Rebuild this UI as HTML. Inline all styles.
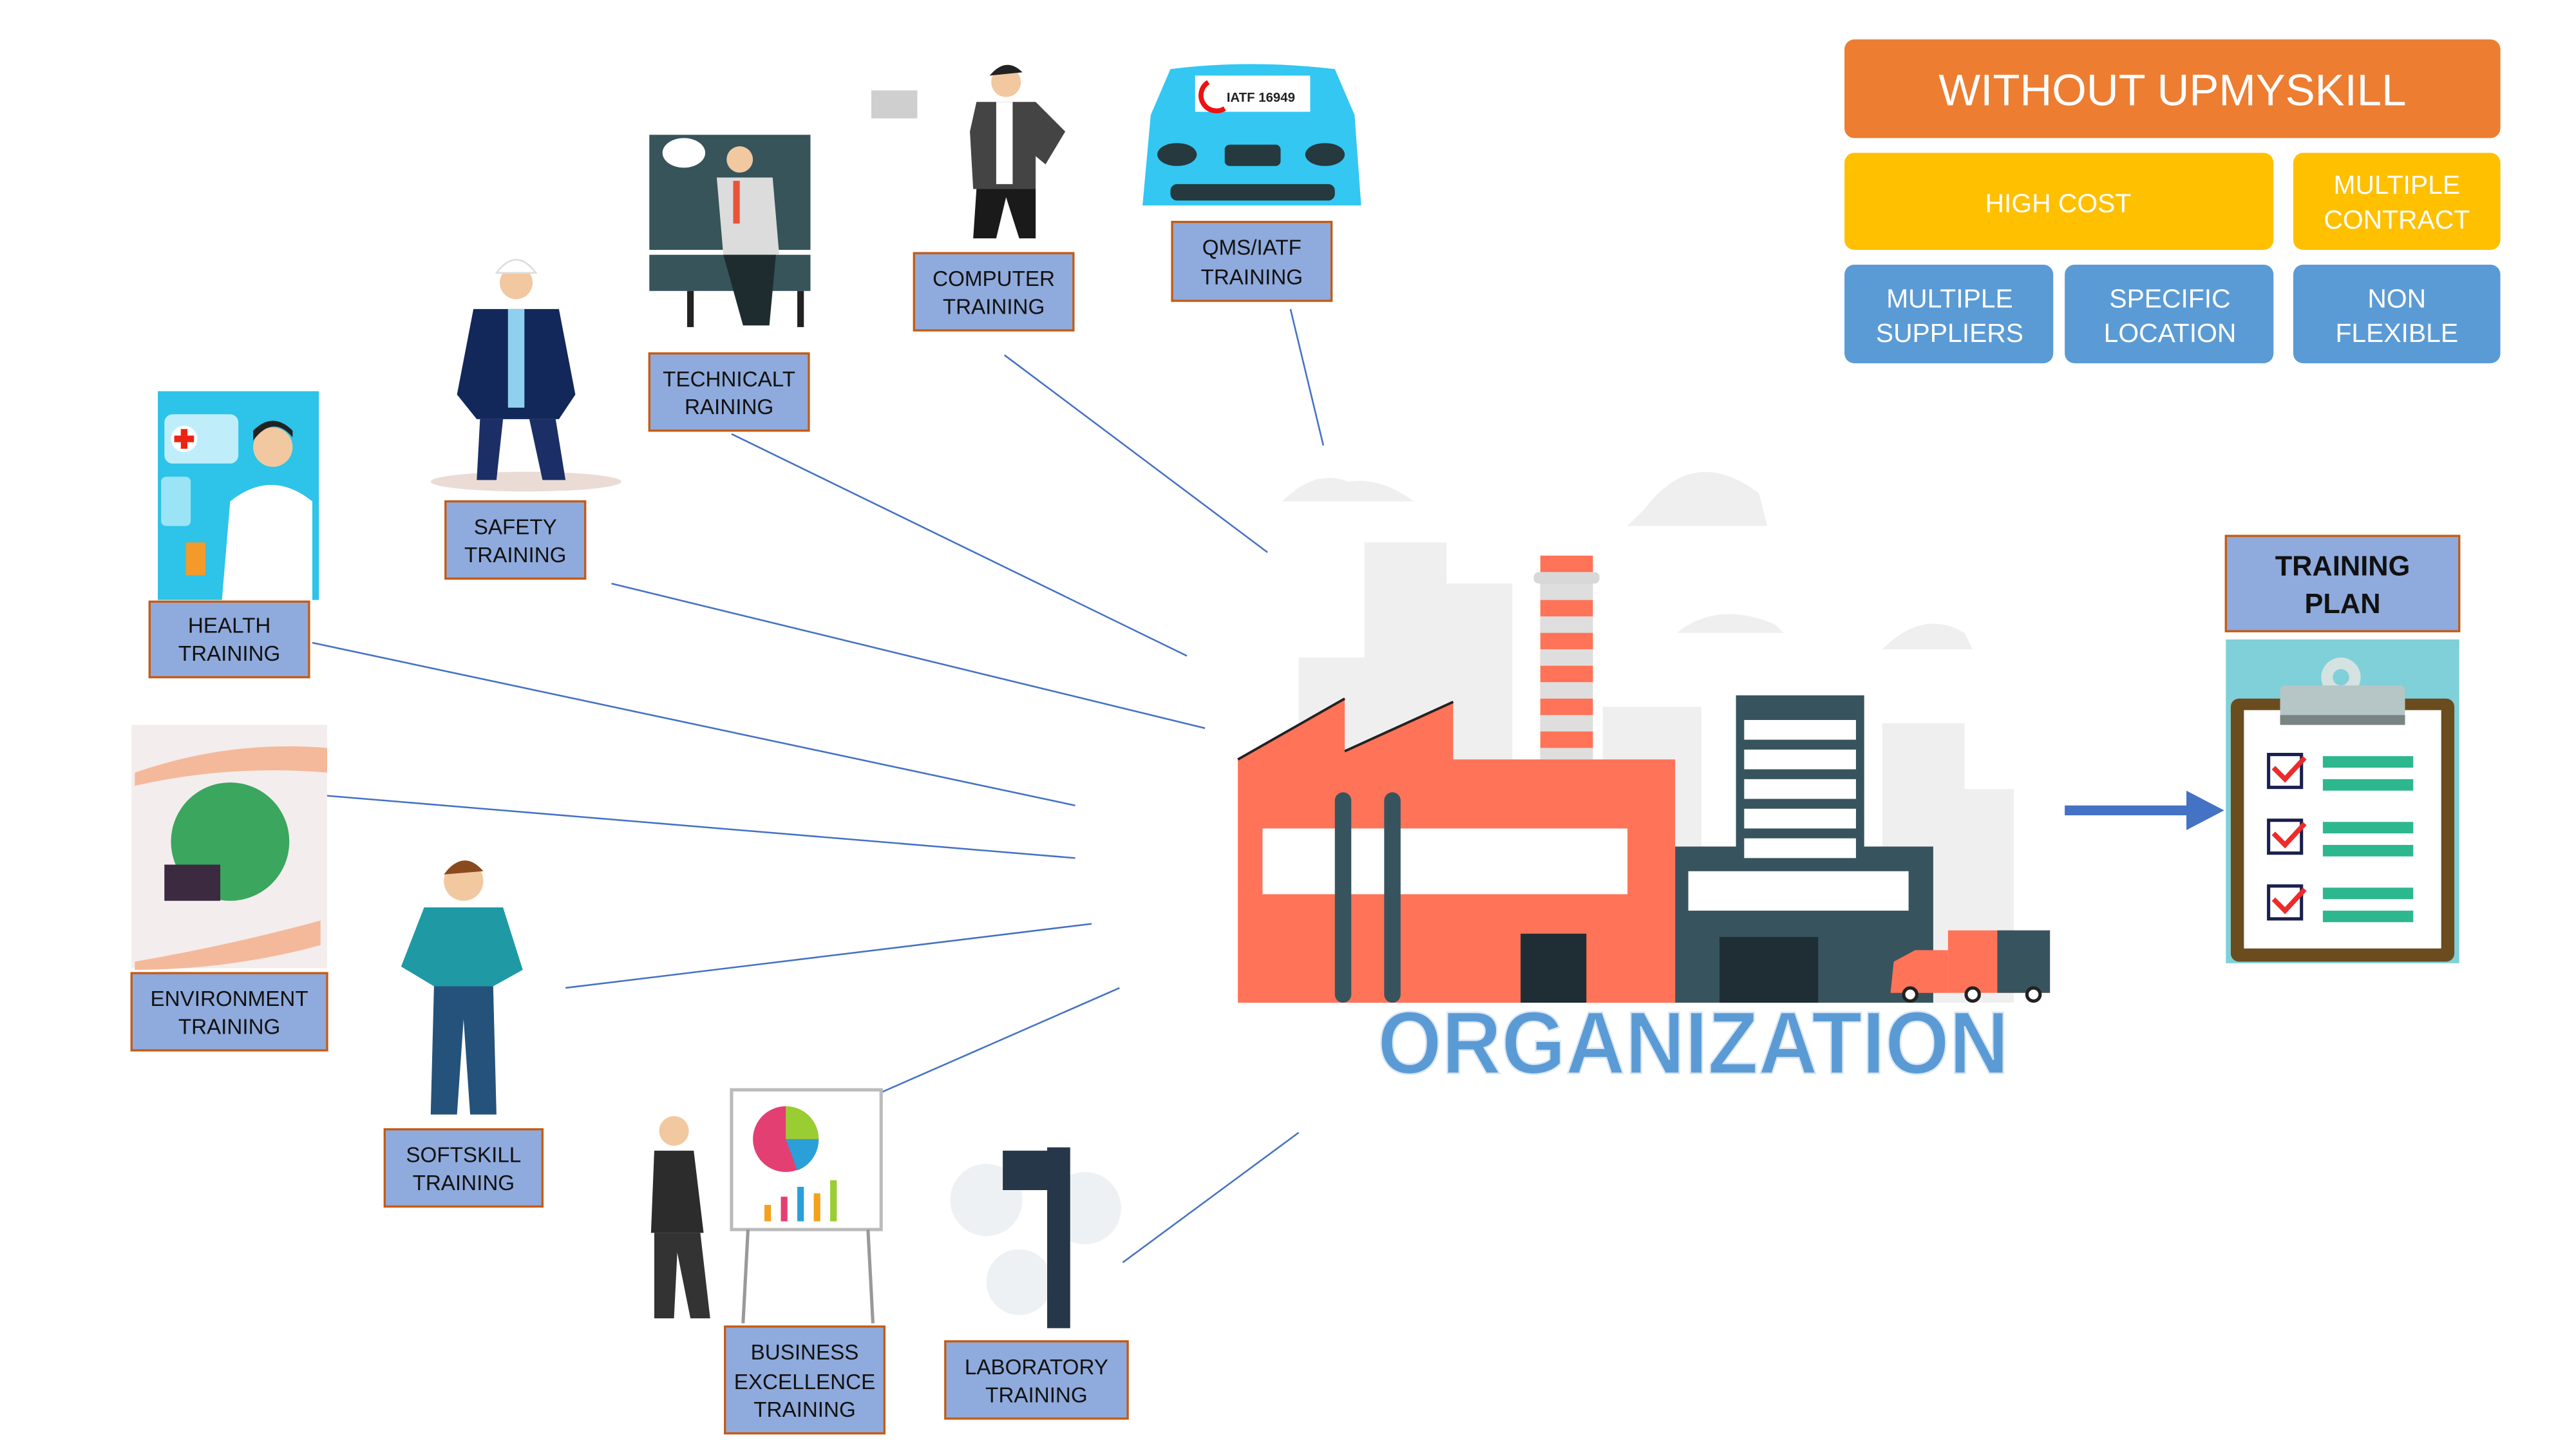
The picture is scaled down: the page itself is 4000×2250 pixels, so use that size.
<!DOCTYPE html>
<html><head><meta charset="utf-8"><style>
html,body{margin:0;padding:0;background:#fff;}
svg{display:block;}
text{font-family:"Liberation Sans",sans-serif;}
</style></head><body>
<svg width="4000" height="2250" viewBox="0 0 1567 881.5" preserveAspectRatio="none" xmlns="http://www.w3.org/2000/svg">
<rect width="1570" height="885" fill="#fff"/>

<!-- connector lines -->
<g stroke="#4472c4" stroke-width="1" fill="none">
<line x1="611" y1="216" x2="771" y2="336"/>
<line x1="785" y1="188" x2="805" y2="271"/>
<line x1="445" y1="264" x2="722" y2="399"/>
<line x1="372" y1="355" x2="733" y2="443"/>
<line x1="190" y1="391" x2="654" y2="490"/>
<line x1="198" y1="484" x2="654" y2="522"/>
<line x1="344" y1="601" x2="664" y2="562"/>
<line x1="535" y1="665" x2="681" y2="601"/>
<line x1="683" y1="768" x2="790" y2="689"/>
</g>

<!-- top right matrix -->
<rect x="1122" y="24" width="399" height="60" rx="6" fill="#ed7d31"/>
<text x="1321.5" y="64" font-size="27" fill="#fff" text-anchor="middle">WITHOUT UPMYSKILL</text>
<rect x="1122" y="93" width="261" height="59" rx="6" fill="#ffc000"/>
<text x="1252" y="129" font-size="16" fill="#fff" text-anchor="middle">HIGH COST</text>
<rect x="1395" y="93" width="126" height="59" rx="6" fill="#ffc000"/>
<text x="1458" y="118" font-size="16" fill="#fff" text-anchor="middle">MULTIPLE</text>
<text x="1458" y="139" font-size="16" fill="#fff" text-anchor="middle">CONTRACT</text>
<g fill="#5b9bd5">
<rect x="1122" y="161" width="127" height="60" rx="6"/>
<rect x="1256" y="161" width="127" height="60" rx="6"/>
<rect x="1395" y="161" width="126" height="60" rx="6"/>
</g>
<g font-size="16" fill="#fff" text-anchor="middle">
<text x="1186" y="187">MULTIPLE</text><text x="1186" y="208">SUPPLIERS</text>
<text x="1320" y="187">SPECIFIC</text><text x="1320" y="208">LOCATION</text>
<text x="1458" y="187">NON</text><text x="1458" y="208">FLEXIBLE</text>
</g>

<!-- health -->
<rect x="96" y="238" width="98" height="127" fill="#2ec3e8"/>
<rect x="100" y="252" width="45" height="30" rx="5" fill="#bfeefa"/>
<circle cx="112" cy="267" r="8" fill="#fff"/><rect x="110" y="261" width="4" height="12" fill="#e21"/><rect x="106" y="265" width="12" height="4" fill="#e21"/>
<rect x="98" y="290" width="18" height="30" rx="3" fill="#9be4f5"/>
<path d="M135 365 L140 305 Q165 285 190 305 L190 365Z" fill="#fff"/>
<circle cx="166" cy="272" r="12" fill="#f2c8a0"/><path d="M154 268 Q166 252 178 266 L178 262 Q166 250 154 262Z" fill="#222"/>
<rect x="113" y="330" width="12" height="20" fill="#f39a2b"/>
<!-- safety -->
<ellipse cx="320" cy="293" rx="58" ry="6" fill="#eadcd5"/>
<circle cx="314" cy="172" r="10" fill="#f2c8a0"/><path d="M302 166 Q314 150 326 166Z" fill="#fff" stroke="#ddd"/>
<path d="M288 188 L340 188 L350 240 L340 255 L290 255 L278 240Z" fill="#12285a"/>
<rect x="309" y="188" width="10" height="60" fill="#8fd0ee"/>
<path d="M292 255 L306 255 L302 292 L290 292Z M322 255 L338 255 L344 292 L330 292Z" fill="#1b2f66"/>
<!-- technical -->
<rect x="395" y="82" width="98" height="70" fill="#36545a"/>
<rect x="395" y="155" width="98" height="22" fill="#36545a"/>
<ellipse cx="416" cy="93" rx="13" ry="9" fill="#fff"/>
<circle cx="450" cy="97" r="8" fill="#f2c8a0"/>
<path d="M436 108 L470 108 L474 155 L440 155Z" fill="#dcdcdc"/>
<rect x="446" y="110" width="4" height="26" fill="#e8533a"/>
<path d="M440 155 L472 155 L468 198 L452 198Z" fill="#1e2c30"/>
<rect x="418" y="177" width="4" height="22" fill="#222"/><rect x="485" y="177" width="4" height="22" fill="#222"/>
<!-- computer -->
<rect x="530" y="55" width="28" height="17" fill="#cfcfcf"/>
<circle cx="612" cy="50" r="9" fill="#f2c8a0"/><path d="M602 46 Q612 34 622 44Z" fill="#222"/>
<path d="M594 62 L630 62 L648 80 L636 100 L630 95 L630 115 L592 115 L590 80Z" fill="#444"/>
<rect x="606" y="62" width="10" height="50" fill="#fff"/>
<path d="M594 115 L630 115 L630 145 L620 145 L612 120 L606 145 L592 145Z" fill="#1a1a1a"/>
<!-- car -->
<path d="M700 70 L712 42 Q760 36 812 42 L824 70 L828 125 L695 125Z" fill="#33c7f2"/>
<rect x="727" y="46" width="70" height="22" fill="#fff"/>
<text x="767" y="62" font-size="8" font-weight="bold" text-anchor="middle" fill="#222">IATF 16949</text>
<path d="M735 50 A9 9 0 0 0 745 66" stroke="#e11" stroke-width="3" fill="none"/>
<ellipse cx="716" cy="94" rx="12" ry="7" fill="#25393f"/><ellipse cx="806" cy="94" rx="12" ry="7" fill="#25393f"/>
<rect x="745" y="88" width="34" height="13" rx="3" fill="#25393f"/>
<rect x="712" y="112" width="100" height="10" rx="4" fill="#25393f"/>
<!-- environment -->
<rect x="80" y="441" width="119" height="148" fill="#f3eded"/>
<circle cx="140" cy="512" r="36" fill="#3aa65e"/>
<path d="M82 470 Q140 450 199 455 L199 470 Q140 465 82 478Z" fill="#f4b99a"/>
<path d="M82 585 Q140 575 195 560 L195 575 Q140 590 82 590Z" fill="#f4b99a"/>
<rect x="100" y="526" width="34" height="22" fill="#3b2a40"/>
<!-- softskill -->
<circle cx="282" cy="536" r="12" fill="#f2c8a0"/><path d="M270 532 Q282 516 294 530Z" fill="#8a4a1f"/>
<path d="M258 552 L306 552 L318 590 L300 600 L264 600 L244 588Z" fill="#1f9aa5"/>
<path d="M264 600 L300 600 L302 678 L286 678 L282 620 L278 678 L262 678Z" fill="#24527a"/>
<!-- business -->
<rect x="445" y="663" width="91" height="85" fill="#fff" stroke="#bbb" stroke-width="2"/>
<circle cx="478" cy="693" r="20" fill="#e43f72"/><path d="M478 693 L478 673 A20 20 0 0 1 498 693Z" fill="#9acd32"/><path d="M478 693 L498 693 A20 20 0 0 1 485 712Z" fill="#2b9fd8"/>
<g fill="#f2a21d"><rect x="465" y="733" width="4" height="10"/><rect x="475" y="728" width="4" height="15" fill="#e43f72"/><rect x="485" y="722" width="4" height="21" fill="#2b9fd8"/><rect x="495" y="726" width="4" height="17"/><rect x="505" y="718" width="4" height="25" fill="#9acd32"/></g>
<line x1="455" y1="748" x2="452" y2="805" stroke="#999" stroke-width="2"/><line x1="528" y1="748" x2="531" y2="805" stroke="#999" stroke-width="2"/>
<circle cx="410" cy="688" r="9" fill="#f2c8a0"/>
<path d="M398 700 L422 700 L428 750 L396 750Z" fill="#2c2c2c"/>
<path d="M398 750 L426 750 L432 802 L420 802 L412 762 L410 802 L398 802Z" fill="#333"/>
<!-- laboratory -->
<g fill="#eef1f3"><circle cx="600" cy="730" r="22"/><circle cx="660" cy="735" r="22"/><circle cx="620" cy="780" r="20"/></g>
<rect x="637" y="698" width="14" height="110" fill="#26374a"/>
<rect x="610" y="700" width="30" height="24" fill="#26374a"/>

<!-- factory -->
<g fill="#efefef">
<rect x="830" y="330" width="50" height="280"/><rect x="875" y="355" width="45" height="250"/>
<rect x="790" y="400" width="40" height="210"/><rect x="975" y="430" width="60" height="180"/>
<rect x="1145" y="440" width="50" height="170"/><rect x="1180" y="480" width="45" height="130"/>
<path d="M780 305 Q800 285 820 293 Q840 290 860 305Z"/><path d="M1000 310 Q1030 270 1070 300 L1075 320 L990 320Z"/>
<path d="M1145 395 Q1170 370 1195 385 L1200 395Z"/><path d="M1020 385 Q1045 365 1080 380 L1085 385Z"/>
</g>
<rect x="937" y="338" width="32" height="130" fill="#ff7358"/>
<g fill="#dedede"><rect x="937" y="355" width="32" height="10"/><rect x="937" y="375" width="32" height="10"/><rect x="937" y="395" width="32" height="10"/><rect x="937" y="415" width="32" height="10"/><rect x="937" y="435" width="32" height="10"/><rect x="937" y="455" width="32" height="13"/></g>
<rect x="933" y="348" width="40" height="7" rx="3" fill="#d8d8d8"/>
<path d="M753 462 L818 425 L818 457 L884 427 L884 462 L1019 462 L1019 610 L753 610Z" fill="#ff7358"/>
<path d="M753 462 L818 425 M818 457 L884 427" stroke="#222" stroke-width="1.5"/>
<rect x="768" y="504" width="222" height="40" fill="#fff"/>
<rect x="812" y="482" width="10" height="128" rx="5" fill="#37545e"/><rect x="842" y="482" width="10" height="128" rx="5" fill="#37545e"/>
<rect x="925" y="568" width="40" height="42" fill="#1f2e35"/>
<rect x="1056" y="423" width="78" height="180" fill="#37545e"/>
<rect x="1019" y="515" width="157" height="95" fill="#37545e"/>
<g fill="#fff"><rect x="1061" y="438" width="68" height="12"/><rect x="1061" y="456" width="68" height="12"/><rect x="1061" y="474" width="68" height="12"/><rect x="1061" y="492" width="68" height="12"/><rect x="1061" y="510" width="68" height="12"/></g>
<rect x="1027" y="530" width="134" height="24" fill="#fff"/>
<rect x="1046" y="570" width="60" height="40" fill="#1f2e35"/>
<rect x="1185" y="566" width="62" height="38" fill="#ff7358"/><rect x="1215" y="566" width="32" height="38" fill="#37545e"/>
<path d="M1150 604 L1152 585 L1165 578 L1185 578 L1185 604Z" fill="#ff7358"/>
<g fill="#fff" stroke="#222" stroke-width="2"><circle cx="1162" cy="605" r="4"/><circle cx="1200" cy="605" r="4"/><circle cx="1237" cy="605" r="4"/></g>
<text x="838" y="653" font-size="54" font-weight="bold" fill="#5b9bd5" stroke="#dbe7f5" stroke-width="1" textLength="384" lengthAdjust="spacingAndGlyphs">ORGANIZATION</text>

<!-- arrow -->
<rect x="1256" y="490" width="76" height="6" fill="#4472c4"/>
<path d="M1330 481 L1353 493 L1330 505Z" fill="#4472c4"/>

<!-- clipboard -->
<rect x="1354" y="389" width="142" height="197" fill="#7fd0d8"/>
<rect x="1357" y="425" width="136" height="160" rx="5" fill="#6b4c1e"/>
<rect x="1365" y="432" width="120" height="145" fill="#fff"/>
<circle cx="1424" cy="412" r="12" fill="#d5e2e2"/><circle cx="1424" cy="412" r="5" fill="#7fd0d8"/>
<rect x="1387" y="417" width="76" height="24" rx="3" fill="#b6c5c5"/><rect x="1387" y="435" width="76" height="6" fill="#7a8484"/>
<g fill="none" stroke="#1a1f4d" stroke-width="2"><rect x="1380" y="459" width="20" height="20"/><rect x="1380" y="499" width="20" height="20"/><rect x="1380" y="539" width="20" height="20"/></g>
<g fill="none" stroke="#ee2a2a" stroke-width="3"><path d="M1383 467 L1390 474 L1402 461"/><path d="M1383 507 L1390 514 L1402 501"/><path d="M1383 547 L1390 554 L1402 541"/></g>
<g fill="#2db78e"><rect x="1413" y="460" width="55" height="7"/><rect x="1413" y="474" width="55" height="7"/><rect x="1413" y="500" width="55" height="7"/><rect x="1413" y="514" width="55" height="7"/><rect x="1413" y="540" width="55" height="7"/><rect x="1413" y="554" width="55" height="7"/></g>

<!-- label boxes -->
<g fill="#8faadc" stroke="#c55a11" stroke-width="1.3">
<rect x="556" y="154" width="97" height="47"/>
<rect x="713" y="135" width="97" height="48"/>
<rect x="395" y="215" width="97" height="47"/>
<rect x="271" y="305" width="85" height="47"/>
<rect x="91" y="366" width="97" height="46"/>
<rect x="80" y="592" width="119" height="47"/>
<rect x="234" y="687" width="96" height="47"/>
<rect x="441" y="807" width="97" height="65"/>
<rect x="575" y="816" width="111" height="47"/>
<rect x="1354" y="326" width="142" height="58"/>
</g>
<g font-size="13" fill="#111" text-anchor="middle">
<text x="604.5" y="174">COMPUTER</text><text x="604.5" y="191">TRAINING</text>
<text x="761.5" y="155">QMS/IATF</text><text x="761.5" y="173">TRAINING</text>
<text x="443.5" y="235">TECHNICALT</text><text x="443.5" y="252">RAINING</text>
<text x="313.5" y="325">SAFETY</text><text x="313.5" y="342">TRAINING</text>
<text x="139.5" y="385">HEALTH</text><text x="139.5" y="402">TRAINING</text>
<text x="139.5" y="612">ENVIRONMENT</text><text x="139.5" y="629">TRAINING</text>
<text x="282" y="707">SOFTSKILL</text><text x="282" y="724">TRAINING</text>
<text x="489.5" y="827">BUSINESS</text><text x="489.5" y="845">EXCELLENCE</text><text x="489.5" y="862">TRAINING</text>
<text x="630.5" y="836">LABORATORY</text><text x="630.5" y="853">TRAINING</text>
</g>
<g font-size="17" font-weight="bold" fill="#111" text-anchor="middle">
<text x="1425" y="350">TRAINING</text><text x="1425" y="373">PLAN</text>
</g>
</svg>
</body></html>
